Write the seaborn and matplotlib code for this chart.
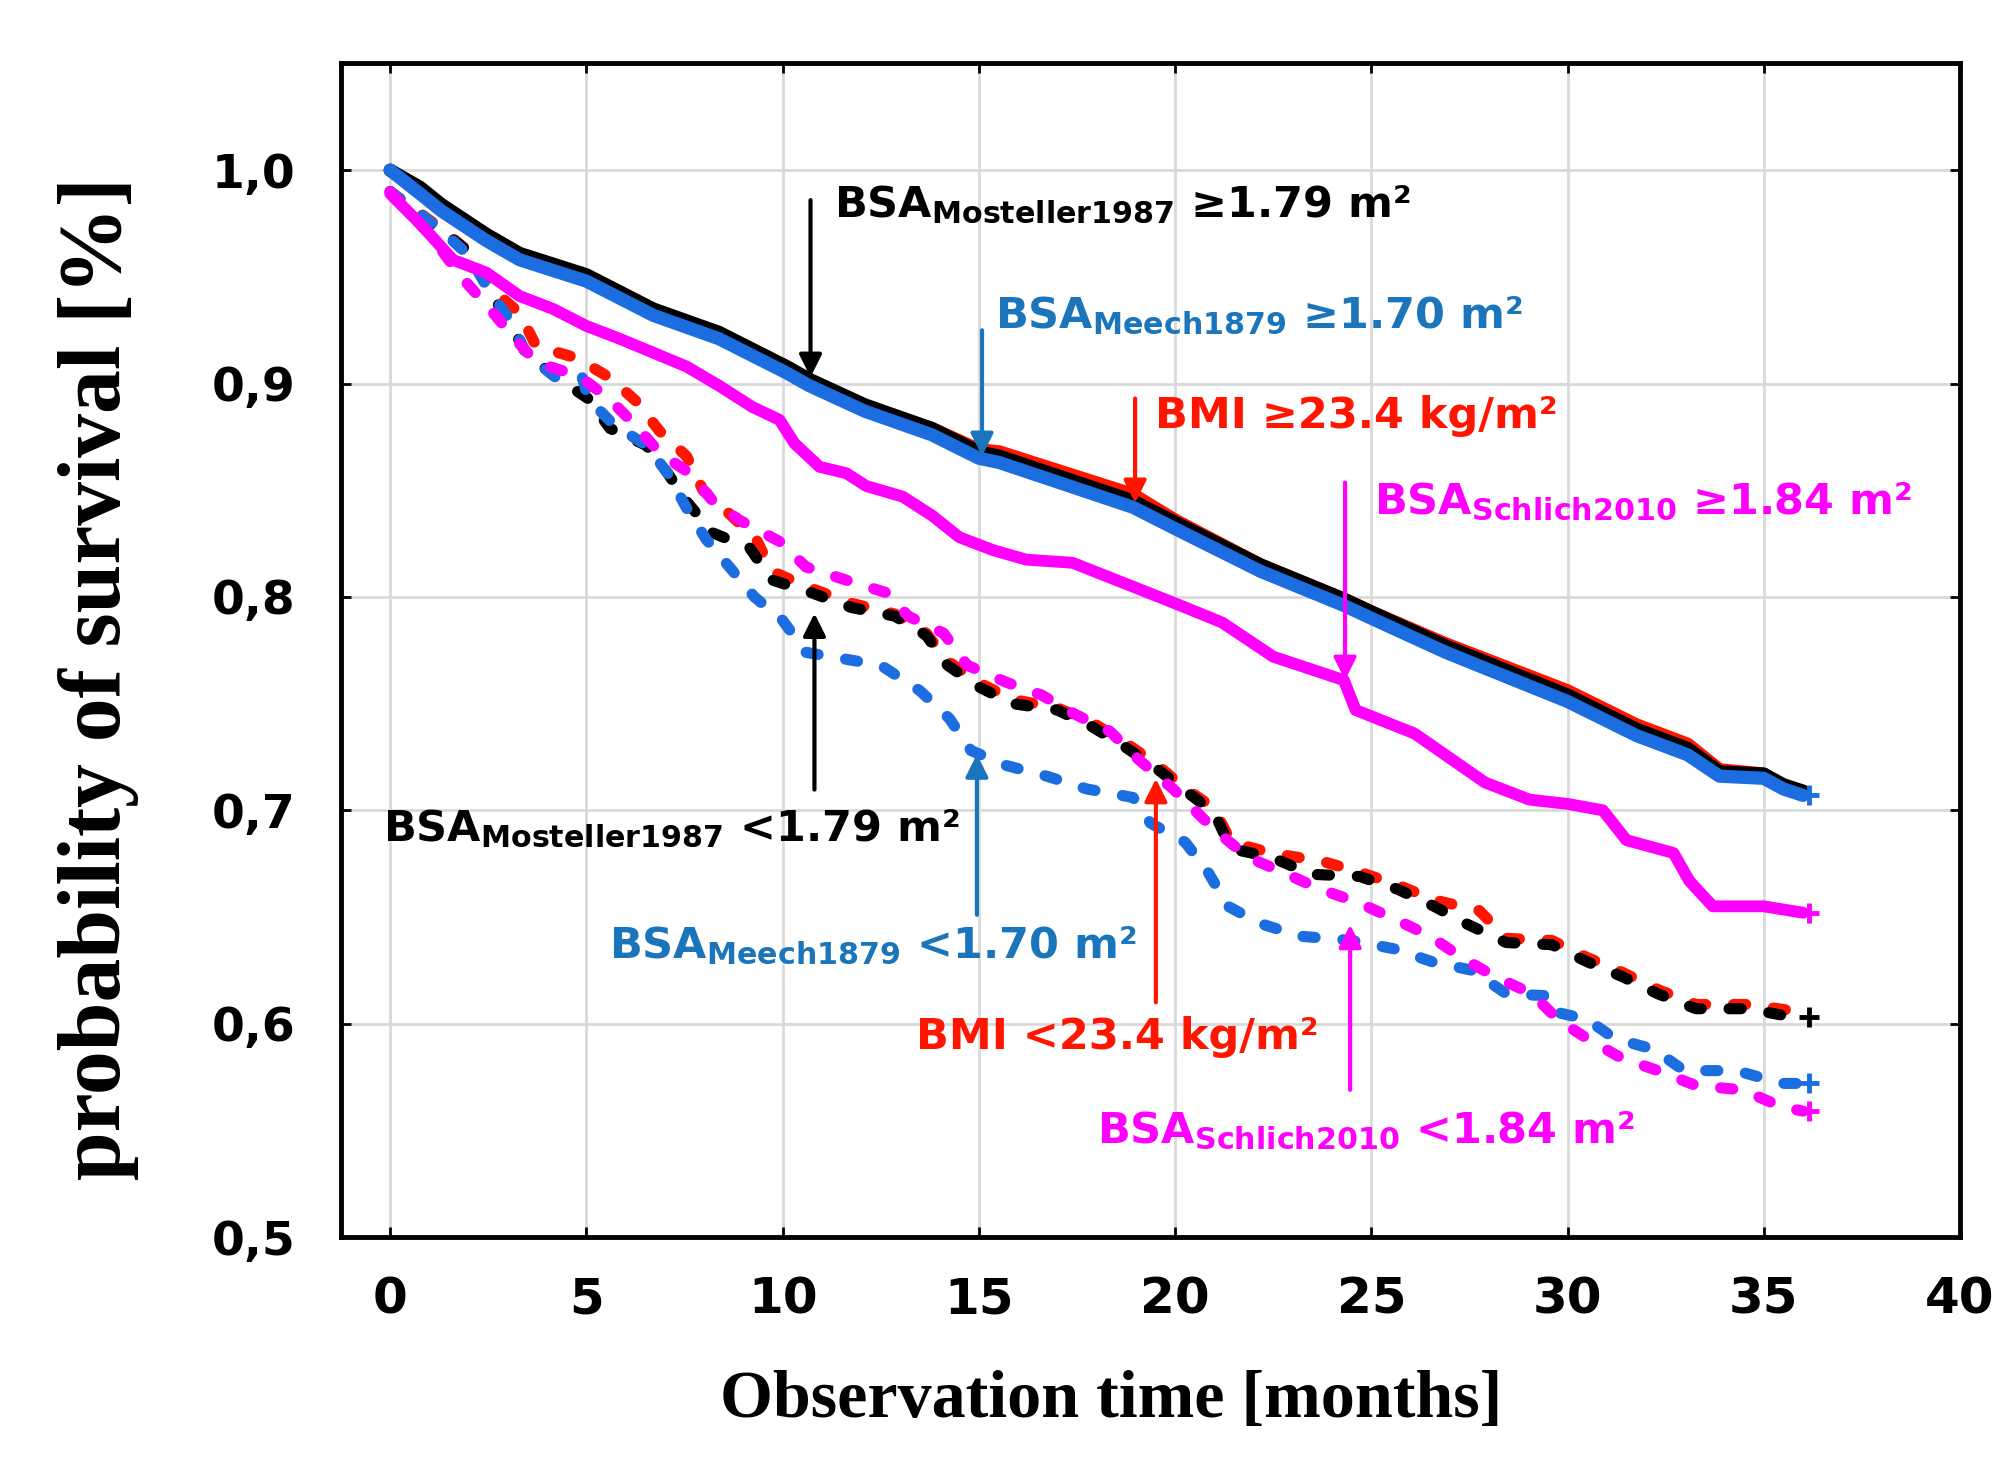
import matplotlib
matplotlib.use("Agg")
import matplotlib.pyplot as plt
import seaborn as sns

# ── Data ──
# upper group, survival >= cut-off (black, red and blue share the time grid)
t_ge_blue = [0, 0.76, 1.3, 2.45, 3.3, 5.0, 6.7, 8.38, 10.1, 10.68, 12.1, 13.8, 15.0, 15.52, 18.93,
             20.0, 22.18, 24.3, 25.0, 26.9, 30.0, 31.76, 33.06, 33.87, 35.0, 35.5, 36.0]
s_ge_blue = [1.0, 0.989, 0.981, 0.967, 0.958, 0.948, 0.932, 0.921, 0.905, 0.899, 0.887, 0.876, 0.865, 0.863,
             0.842, 0.832, 0.812, 0.796, 0.790, 0.774, 0.751, 0.735, 0.726, 0.716, 0.715, 0.710, 0.707]
s_ge_black = [1.0, 0.992, 0.984, 0.970, 0.961, 0.951, 0.935, 0.924, 0.908, 0.902, 0.890, 0.879, 0.868, 0.866,
              0.845, 0.835, 0.815, 0.799, 0.793, 0.777, 0.754, 0.738, 0.729, 0.718, 0.717, 0.712, 0.709]
s_ge_red = [1.0, 0.991, 0.983, 0.969, 0.960, 0.950, 0.934, 0.923, 0.907, 0.901, 0.889, 0.879, 0.869, 0.868,
            0.848, 0.836, 0.815, 0.799, 0.793, 0.778, 0.756, 0.740, 0.731, 0.719, 0.717, 0.711, 0.708]

t_ge_mag = [0, 0.76, 1.6, 2.45, 3.3, 4.15, 5.0, 5.85, 6.7, 7.55, 8.38, 9.23, 9.92, 10.3, 10.94, 11.62,
            12.13, 13.06, 13.82, 14.5, 15.35, 16.2, 17.39, 20.0, 21.2, 22.5, 24.3, 24.6, 26.1, 27.9,
            29.03, 30.0, 30.9, 31.5, 32.7, 33.1, 33.7, 35.0, 36.0]
s_ge_mag = [0.989, 0.975, 0.958, 0.952, 0.941, 0.935, 0.927, 0.921, 0.9145, 0.908, 0.899, 0.889, 0.883,
            0.872, 0.861, 0.858, 0.852, 0.847, 0.838, 0.828, 0.822, 0.8175, 0.816, 0.797, 0.788, 0.772,
            0.761, 0.747, 0.736, 0.713, 0.705, 0.703, 0.700, 0.686, 0.680, 0.667, 0.655, 0.655, 0.652]

# lower group, survival < cut-off
t_lt_black = [0, 0.6, 1.27, 1.99, 2.54, 3.0, 3.47, 4.23, 5.04, 5.6, 6.53, 7.07, 7.54, 8.22, 9.16, 9.72,
              10.73, 11.76, 12.86, 13.66, 14.2, 14.98, 15.85, 17.0, 17.9, 18.7, 19.5, 20.2, 20.99, 21.43,
              22.45, 23.48, 24.7, 25.67, 26.6, 27.4, 28.44, 29.6, 30.5, 31.4, 32.3, 33.27, 34.6, 35.75, 36.0]
s_lt_black = [0.99, 0.98, 0.972, 0.962, 0.943, 0.930, 0.914, 0.903, 0.893, 0.879, 0.871, 0.858, 0.845,
              0.830, 0.823, 0.808, 0.802, 0.795, 0.791, 0.782, 0.768, 0.758, 0.750, 0.747, 0.739, 0.730,
              0.720, 0.710, 0.699, 0.682, 0.678, 0.670, 0.669, 0.663, 0.655, 0.647, 0.638, 0.637, 0.629,
              0.622, 0.614, 0.607, 0.607, 0.603, 0.603]

t_lt_red = [0, 1.27, 1.99, 2.54, 3.3, 3.72, 4.75, 5.6, 6.27, 6.87, 7.55, 7.97, 8.64, 9.33, 9.72, 10.73,
            11.76, 12.86, 13.66, 14.2, 14.98, 15.85, 17.0, 17.9, 18.7, 19.5, 20.2, 20.99, 21.43, 22.45,
            23.77, 24.7, 25.67, 26.6, 27.75, 28.44, 29.6, 30.5, 31.4, 32.3, 33.27, 34.6, 35.75, 36.0]
s_lt_red = [0.99, 0.973, 0.962, 0.945, 0.933, 0.9175, 0.912, 0.9027, 0.8917, 0.8776, 0.866, 0.850, 0.839,
            0.827, 0.812, 0.804, 0.797, 0.792, 0.783, 0.770, 0.760, 0.752, 0.748, 0.741, 0.732, 0.722,
            0.711, 0.701, 0.685, 0.680, 0.676, 0.671, 0.665, 0.658, 0.653, 0.640, 0.639, 0.631, 0.624,
            0.616, 0.609, 0.609, 0.606, 0.606]

t_lt_blue = [0, 1.3, 2.0, 2.54, 3.05, 3.47, 4.23, 4.9, 5.04, 5.68, 6.53, 7.07, 7.54, 8.05, 8.69, 9.28,
             10.0, 10.6, 12.5, 13.5, 14.25, 14.8, 15.7, 16.73, 17.75, 18.93, 19.37, 20.26, 20.84, 21.35,
             22.16, 23.18, 24.5, 25.6, 26.55, 27.57, 28.44, 29.6, 29.8, 30.5, 31.2, 32.2, 32.97, 34.3,
             35.46, 36.0]
s_lt_blue = [0.99, 0.972, 0.960, 0.943, 0.930, 0.914, 0.9027, 0.9027, 0.893, 0.881, 0.871, 0.858, 0.842,
             0.827, 0.813, 0.800, 0.789, 0.774, 0.768, 0.756, 0.743, 0.728, 0.721, 0.716, 0.710, 0.706,
             0.694, 0.685, 0.671, 0.655, 0.647, 0.641, 0.639, 0.635, 0.629, 0.625, 0.614, 0.613, 0.605,
             0.602, 0.593, 0.588, 0.578, 0.578, 0.572, 0.572]

t_lt_mag = [0, 1.0, 1.86, 2.54, 3.13, 3.72, 4.83, 5.6, 6.27, 6.87, 7.63, 8.22, 8.9, 9.92, 10.6, 11.6,
            12.64, 13.2, 14.1, 14.7, 15.7, 16.6, 17.45, 18.34, 19.06, 19.95, 21.0, 21.86, 22.74, 23.7,
            24.63, 25.6, 26.5, 27.3, 28.15, 29.1, 29.75, 30.5, 31.36, 32.3, 33.27, 34.44, 35.46, 36.0]
s_lt_mag = [0.99, 0.970, 0.949, 0.935, 0.922, 0.910, 0.9034, 0.8925, 0.880, 0.8675, 0.858, 0.845, 0.836,
            0.826, 0.814, 0.808, 0.802, 0.791, 0.783, 0.768, 0.760, 0.754, 0.745, 0.737, 0.724, 0.710,
            0.691, 0.678, 0.671, 0.663, 0.657, 0.649, 0.641, 0.631, 0.622, 0.614, 0.602, 0.593, 0.584,
            0.578, 0.571, 0.569, 0.561, 0.559]

x_ticks = [0, 5, 10, 15, 20, 25, 30, 35, 40]
x_tick_labels = ["0", "5", "10", "15", "20", "25", "30", "35", "40"]
y_ticks = [0.5, 0.6, 0.7, 0.8, 0.9, 1.0]
y_tick_labels = ["0,5", "0,6", "0,7", "0,8", "0,9", "1,0"]

# ── Colours ──
BLACK = "#000000"
BLUE_LINE = "#1c6ee0"
BLUE_TEXT = "#1b75bb"
RED = "#ff1500"
MAGENTA = "#ff00ff"

# ── Style ──
sns.set_theme(style="white")
plt.rcParams["font.family"] = ["DejaVu Sans"]
plt.rcParams["mathtext.fontset"] = "dejavusans"
for key in ["text.color", "axes.labelcolor", "xtick.color", "ytick.color"]:
    plt.rcParams[key] = "black"

fig = plt.figure(figsize=(20.08, 14.73), dpi=100)
ax = fig.add_axes([0.1698, 0.1602, 0.8063, 0.7968])

dotted = dict(linestyle=(0, (1.1, 2.5)), dash_capstyle="round", linewidth=8, estimator=None)

# lower group (dotted)
sns.lineplot(x=t_lt_red, y=s_lt_red, ax=ax, color=RED, **dotted)
sns.lineplot(x=t_lt_black, y=s_lt_black, ax=ax, color=BLACK, **dotted)
sns.lineplot(x=t_lt_blue, y=s_lt_blue, ax=ax, color=BLUE_LINE, **dotted)
sns.lineplot(x=t_lt_mag, y=s_lt_mag, ax=ax, color=MAGENTA, **dotted)

# upper group (solid)
solid = dict(solid_capstyle="round", solid_joinstyle="round", estimator=None)
sns.lineplot(x=t_ge_mag, y=s_ge_mag, ax=ax, color=MAGENTA, linewidth=8.5, **solid)
sns.lineplot(x=t_ge_blue, y=s_ge_red, ax=ax, color=RED, linewidth=9.5, **solid)
sns.lineplot(x=t_ge_blue, y=s_ge_black, ax=ax, color=BLACK, linewidth=9.5, **solid)
sns.lineplot(x=t_ge_blue, y=s_ge_blue, ax=ax, color=BLUE_LINE, linewidth=9.5, **solid)

# censoring marks at the end of each curve
for tt, ss, c in [(t_ge_blue, s_ge_blue, BLUE_LINE), (t_ge_mag, s_ge_mag, MAGENTA),
                  (t_lt_black, s_lt_black, BLACK), (t_lt_blue, s_lt_blue, BLUE_LINE),
                  (t_lt_mag, s_lt_mag, MAGENTA)]:
    ax.plot(tt[-1] + 0.15, ss[-1], marker="+", color=c, markersize=14, markeredgewidth=3.5)

# ── Annotations ──
def label(text, color, xy_text, tail, head):
    ax.annotate("", xy=head, xytext=tail,
                arrowprops=dict(arrowstyle="-|>", color=color, lw=3, mutation_scale=34,
                                shrinkA=0, shrinkB=0))
    ax.text(xy_text[0], xy_text[1], text, color=color, fontsize=31, fontweight="bold",
            ha="left", va="baseline")

label(r"$\mathbf{BSA}_{\mathbf{Mosteller1987}}$ ≥1.79 m²", BLACK, (11.3, 0.978), (10.71, 0.986), (10.71, 0.903))
label(r"$\mathbf{BSA}_{\mathbf{Meech1879}}$ ≥1.70 m²", BLUE_TEXT, (15.4, 0.926), (15.08, 0.925), (15.08, 0.866))
label("BMI ≥23.4 kg/m²", RED, (19.5, 0.879), (18.98, 0.893), (18.98, 0.844))
label(r"$\mathbf{BSA}_{\mathbf{Schlich2010}}$ ≥1.84 m²", MAGENTA, (25.07, 0.8386), (24.33, 0.8536), (24.33, 0.761))
label(r"$\mathbf{BSA}_{\mathbf{Mosteller1987}}$ <1.79 m²", BLACK, (-0.19, 0.6855), (10.81, 0.7097), (10.81, 0.7923))
label(r"$\mathbf{BSA}_{\mathbf{Meech1879}}$ <1.70 m²", BLUE_TEXT, (5.58, 0.6307), (14.95, 0.651), (14.95, 0.7263))
label("BMI <23.4 kg/m²", RED, (13.4, 0.5882), (19.51, 0.610), (19.51, 0.7148))
label(r"$\mathbf{BSA}_{\mathbf{Schlich2010}}$ <1.84 m²", MAGENTA, (18.0, 0.5441), (24.46, 0.569), (24.46, 0.6464))

# ── Axes ──
ax.set_xlim(-1.255, 40)
ax.set_ylim(0.5, 1.0501)
ax.set_xticks(x_ticks)
ax.set_xticklabels(x_tick_labels)
ax.set_yticks(y_ticks)
ax.set_yticklabels(y_tick_labels)
ax.grid(True, color="#d9d9d9", linewidth=2)
ax.set_axisbelow(True)
ax.tick_params(axis="x", labelsize=36, pad=28, direction="in", length=7, width=2,
               top=True, bottom=True, labeltop=False)
ax.tick_params(axis="y", labelsize=34, pad=33, direction="in", length=7, width=2,
               left=True, right=True, labelright=False)
for lab in ax.get_xticklabels() + ax.get_yticklabels():
    lab.set_fontweight("bold")
for sp in ax.spines.values():
    sp.set_linewidth(3.5)
    sp.set_color("black")

ax.set_xlabel("Observation time [months]", fontsize=49, fontweight="bold",
              family="Liberation Serif", va="center")
ax.xaxis.set_label_coords(0.4756, -0.139)
ax.set_ylabel("probability of survival [%]", fontsize=63, fontweight="bold",
              family="Liberation Serif", va="center")
ax.yaxis.set_label_coords(-0.150, 0.476)

fig.savefig("out.png", dpi=100, facecolor="white")
